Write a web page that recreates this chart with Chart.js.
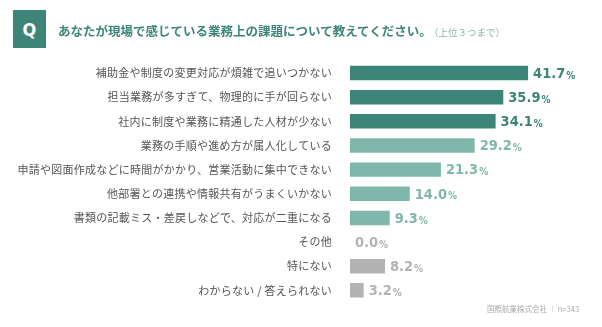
<!DOCTYPE html>
<html><head><meta charset="utf-8">
<script src="https://cdn.jsdelivr.net/npm/chart.js@4/dist/chart.umd.min.js"></script>
<style>
html,body{margin:0;padding:0;background:#fff;width:602px;height:327px;overflow:hidden;font-family:"Noto Sans CJK JP","Noto Sans",sans-serif;}
#wrap{position:relative;width:602px;height:327px;}
#c{position:absolute;left:0;top:0;}
#qbox{position:absolute;left:13px;top:10px;width:33px;height:38px;background:#3d8479;color:#fff;font:bold 18px "DejaVu Sans Condensed","Noto Sans",sans-serif;display:flex;align-items:center;justify-content:center;}
#title{position:absolute;left:58px;top:22px;font-weight:bold;font-size:12.5px;color:#3d8479;white-space:nowrap;line-height:18px;}
#title small{font-weight:normal;font-size:9.5px;color:#8fb5ae;margin-left:2px;}
#foot{position:absolute;left:487px;top:303px;font-size:7.5px;color:#aaa;white-space:nowrap;}
</style></head><body>
<div id="wrap">
<canvas id="c" width="602" height="327"></canvas>
<div id="qbox">Q</div>
<div id="title">あなたが現場で感じている業務上の課題について教えてください。<small>（上位３つまで）</small></div>
<div id="foot">国際航業株式会社 ｜ n=343</div>
</div>
<script>
const categories = [
  "補助金や制度の変更対応が煩雑で追いつかない",
  "担当業務が多すぎて、物理的に手が回らない",
  "社内に制度や業務に精通した人材が少ない",
  "業務の手順や進め方が属人化している",
  "申請や図面作成などに時間がかかり、営業活動に集中できない",
  "他部署との連携や情報共有がうまくいかない",
  "書類の記載ミス・差戻しなどで、対応が二重になる",
  "その他",
  "特にない",
  "わからない / 答えられない"
];
const values = [41.7, 35.9, 34.1, 29.2, 21.3, 14.0, 9.3, 0.0, 8.2, 3.2];
const groups = ["top","top","top","mid","mid","mid","mid","none","none","none"];

const barColor = {top:"#3d8479", mid:"#7fb8ab", none:"#b3b3b3"};
const textColor = {top:"#3d8479", mid:"#7fb8ab", none:"#b3b3b3"};

const spacingPlugin = {
  id:"spacing",
  beforeInit(chart){ chart.ctx.letterSpacing = "0.25px"; },
  beforeUpdate(chart){ chart.ctx.letterSpacing = "0.25px"; },
  beforeDraw(chart){ chart.ctx.letterSpacing = "0.25px"; }
};

const labelPlugin = {
  id:"valueLabels",
  afterDatasetsDraw(chart){
    const ctx = chart.ctx;
    const meta = chart.getDatasetMeta(0);
    meta.data.forEach((bar,i)=>{
      const v = values[i];
      const num = v.toFixed(1);
      ctx.save();
      ctx.letterSpacing = "0px";
      ctx.fillStyle = textColor[groups[i]];
      ctx.textBaseline = "middle";
      ctx.textAlign = "left";
      let x = bar.x + 5;
      ctx.font = "bold 14.5px 'DejaVu Sans Condensed','Liberation Sans Narrow',sans-serif";
      ctx.fillText(num, x, bar.y + 1);
      const w = ctx.measureText(num).width;
      ctx.font = "bold 10px 'DejaVu Sans Condensed','Liberation Sans Narrow',sans-serif";
      ctx.fillText("%", x + w + 1, bar.y + 3);
      ctx.restore();
    });
  }
};

new Chart(document.getElementById("c"), {
  type:"bar",
  data:{
    labels:categories,
    datasets:[{
      data:values,
      backgroundColor:groups.map(g=>barColor[g]),
      borderWidth:0,
      barPercentage:0.6,
      categoryPercentage:1.0
    }]
  },
  options:{
    indexAxis:"y",
    responsive:false,
    animation:false,
    layout:{padding:{left:0,right:38.5,top:61,bottom:11}},
    plugins:{legend:{display:false},tooltip:{enabled:false},title:{display:false}},
    scales:{
      x:{display:false,min:0,max:50},
      y:{
        grid:{display:false,drawTicks:false},
        border:{display:false},
        ticks:{padding:18,color:"#555",font:{family:"'Noto Sans CJK JP'",size:11}},
        afterFit(scale){scale.width=350;}
      }
    }
  },
  plugins:[spacingPlugin,labelPlugin]
});
</script>
</body></html>
